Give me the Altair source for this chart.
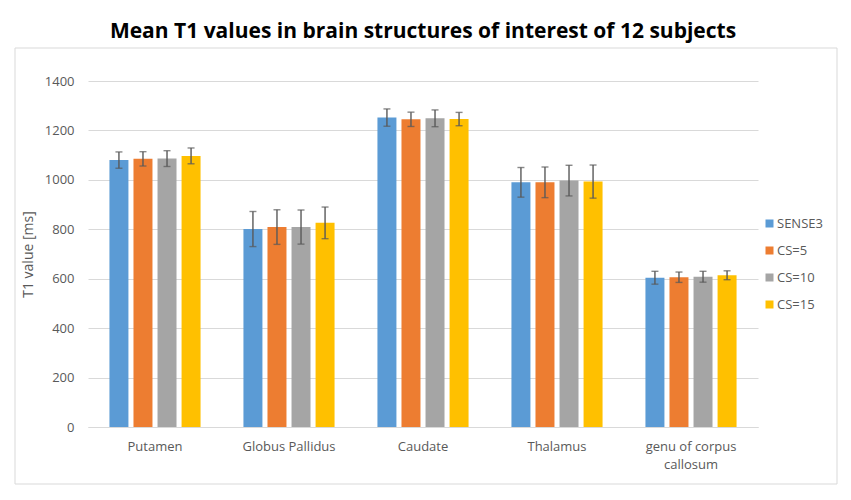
import altair as alt
import pandas as pd

structures = ["Putamen", "Globus Pallidus", "Caudate", "Thalamus", "genu of corpus callosum"]
series = ["SENSE3", "CS=5", "CS=10", "CS=15"]
colors = ["#5B9BD5", "#ED7D31", "#A5A5A5", "#FFC000"]

mean_sense3 = [1080, 801, 1252, 990, 604]
mean_cs5 = [1085, 809, 1245, 990, 606]
mean_cs10 = [1086, 809, 1249, 997, 608]
mean_cs15 = [1097, 826, 1246, 993, 614]

sd_sense3 = [33, 71, 35, 60, 26]
sd_cs5 = [29, 70, 29, 62, 21]
sd_cs10 = [32, 69, 34, 62, 22]
sd_cs15 = [32, 64, 27, 67, 18]

y_ticks = [0, 200, 400, 600, 800, 1000, 1200, 1400]

means = [mean_sense3, mean_cs5, mean_cs10, mean_cs15]
sds = [sd_sense3, sd_cs5, sd_cs10, sd_cs15]

rows = []
for s, m_list, sd_list in zip(series, means, sds):
    for st, m, sd in zip(structures, m_list, sd_list):
        rows.append({"structure": st, "series": s, "mean": m,
                     "lo": m - sd, "hi": m + sd})
df = pd.DataFrame(rows)

FONT = "Open Sans"
TXT = "#595959"

x_enc = alt.X("structure:N", sort=structures,
              scale=alt.Scale(paddingInner=0.32, paddingOuter=0.16),
              axis=alt.Axis(title=None, labelAngle=0, ticks=False,
                            labelPadding=13, labelLineHeight=18,
                            labelExpr="datum.value == 'genu of corpus callosum' ? ['genu of corpus', 'callosum'] : datum.value",
                            domainColor="#d9d9d9", labelColor=TXT,
                            labelFontSize=13, labelFont=FONT))
xo_enc = alt.XOffset("series:N", sort=series,
                     scale=alt.Scale(paddingInner=0.21, paddingOuter=0))

base = alt.Chart(df)

bars = base.mark_bar().encode(
    x=x_enc,
    xOffset=xo_enc,
    y=alt.Y("mean:Q", scale=alt.Scale(domain=[0, 1400]),
            axis=alt.Axis(title="T1 value [ms]", values=y_ticks, ticks=False,
                          format="d",
                          domain=False, gridColor="#d9d9d9", labelColor=TXT,
                          labelFontSize=13, labelFont=FONT, labelPadding=14,
                          titleColor=TXT, titleFontSize=14, titleFont=FONT,
                          titleFontWeight="normal", titlePadding=9)),
    color=alt.Color("series:N", sort=series,
                    scale=alt.Scale(domain=series, range=colors),
                    legend=alt.Legend(title=None, orient="none", legendX=675,
                                      legendY=136, symbolType="square",
                                      symbolSize=64, symbolStrokeWidth=0,
                                      labelColor=TXT, labelFontSize=13,
                                      labelFont=FONT, rowPadding=13,
                                      labelOffset=1)),
)

rules = base.mark_rule(color="#595959", strokeWidth=1.4).encode(
    x=alt.X("structure:N", sort=structures),
    xOffset=xo_enc,
    y="lo:Q",
    y2="hi:Q",
)

caps_hi = base.mark_tick(color="#595959", thickness=1.4, size=7).encode(
    x=alt.X("structure:N", sort=structures),
    xOffset=xo_enc,
    y="hi:Q",
)
caps_lo = base.mark_tick(color="#595959", thickness=1.4, size=7).encode(
    x=alt.X("structure:N", sort=structures),
    xOffset=xo_enc,
    y="lo:Q",
)

frame = alt.Chart(pd.DataFrame({"a": [0]})).mark_rect(
    fillOpacity=0, stroke="#d9d9d9", strokeWidth=1
).encode(
    x=alt.value(-73), x2=alt.value(749), y=alt.value(-33), y2=alt.value(403)
)

chart = alt.layer(frame, bars, rules, caps_hi, caps_lo).properties(
    width=670, height=346,
    autosize=alt.AutoSizeParams(type="none"),
    padding={"left": 80, "top": 73, "right": 85, "bottom": 60},
    title=alt.Title("Mean T1 values in brain structures of interest of 12 subjects",
                    font=FONT, fontSize=21, fontWeight="bold", color="#000000",
                    anchor="middle", offset=6),
).configure_view(stroke=None)

chart.save("out.html", embed_options={"renderer": "svg", "actions": False})
